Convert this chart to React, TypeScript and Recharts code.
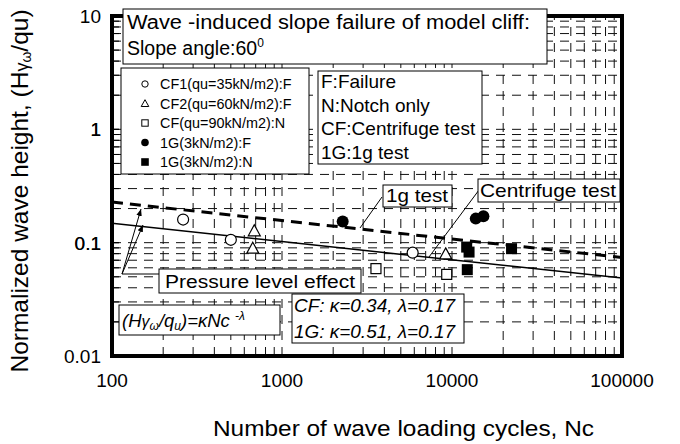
import React from 'react';
import { ScatterChart, Scatter, XAxis, YAxis, ReferenceLine } from 'recharts';

// CF1 (qu=35kN/m2): failure — open circles
const cf1Nc = [262, 500, 5870];
const cf1H = [0.16, 0.106, 0.0816];
// CF2 (qu=60kN/m2): failure — open triangles
const cf2Nc = [687, 673, 9180];
const cf2H = [0.126, 0.0885, 0.0788];
// CF (qu=90kN/m2): notch only — open squares
const cf3Nc = [3570, 9310];
const cf3H = [0.059, 0.0525];
// 1G (3kN/m2): failure — filled circles
const g1fNc = [2275, 13800, 15300];
const g1fH = [0.154, 0.163, 0.171];
// 1G (3kN/m2): notch only — filled squares
const g1nNc = [12200, 12600, 12300, 22400];
const g1nH = [0.0914, 0.0826, 0.0578, 0.0885];

// fitted lines, end points
const cfFitNc = [100, 100000];
const cfFitH = [0.148, 0.0487];
const g1FitNc = [100, 100000];
const g1FitH = [0.228, 0.074];

const xTicks = [100, 1000, 10000, 100000];
const yMajor = [0.01, 0.1, 1, 10];
const xGrid = [
  200, 300, 400, 500, 600, 700, 800, 900, 1000,
  2000, 3000, 4000, 5000, 6000, 7000, 8000, 9000, 10000,
  20000, 30000, 40000, 50000, 60000, 70000, 80000, 90000,
];
const yGrid = [
  0.02, 0.03, 0.04, 0.05, 0.06, 0.07, 0.08, 0.09, 0.1,
  0.2, 0.3, 0.4, 0.5, 0.6, 0.7, 0.8, 0.9, 1,
  2, 3, 4, 5, 6, 7, 8, 9,
];

const FONT = '"Liberation Sans", Arial, sans-serif';

const pts = (xs: number[], ys: number[]) => xs.map((x, i) => ({ x, y: ys[i] }));

const OpenCircle = ({ cx, cy }: any) => (
  <circle cx={cx} cy={cy} r={5.5} fill="#fff" stroke="#000" strokeWidth={1.2} />
);
const OpenTriangle = ({ cx, cy }: any) => (
  <path d={`M${cx},${cy - 6.5} L${cx + 6},${cy + 4.5} L${cx - 6},${cy + 4.5} Z`} fill="#fff" stroke="#000" strokeWidth={1.2} />
);
const OpenSquare = ({ cx, cy }: any) => (
  <rect x={cx - 5} y={cy - 5} width={10} height={10} fill="#fff" stroke="#000" strokeWidth={1.2} />
);
const FilledCircle = ({ cx, cy }: any) => <circle cx={cx} cy={cy} r={6} fill="#000" />;
const FilledSquare = ({ cx, cy }: any) => (
  <rect x={cx - 5.5} y={cy - 5.5} width={11} height={11} fill="#000" />
);
const NoDot = () => <g />;

const XTick = ({ x, y, payload }: any) => (
  <text x={x} y={y + 31} textAnchor="middle" fontSize={19} fontFamily={FONT} fill="#000">
    {payload.value}
  </text>
);

const YTick = ({ x, y, payload }: any) => {
  const major = yMajor.includes(payload.value);
  return (
    <g>
      <line x1={x} y1={y} x2={x + 7} y2={y} stroke="#000" strokeWidth={1} />
      {major && (
        <text x={x - 11} y={y + 7} textAnchor="end" fontSize={19} fontFamily={FONT} fill="#000">
          {payload.value}
        </text>
      )}
    </g>
  );
};

const legendRows = [
  { label: 'CF1(qu=35kN/m2):F', kind: 'oc' },
  { label: 'CF2(qu=60kN/m2):F', kind: 'ot' },
  { label: 'CF(qu=90kN/m2):N', kind: 'os' },
  { label: '1G(3kN/m2):F', kind: 'fc' },
  { label: '1G(3kN/m2):N', kind: 'fs' },
];
const keyRows = ['F:Failure', 'N:Notch only', 'CF:Centrifuge test', '1G:1g test'];

function LegendMark({ kind, x, y }: { kind: string; x: number; y: number }) {
  if (kind === 'oc') return <circle cx={x} cy={y} r={3.2} fill="#fff" stroke="#000" strokeWidth={1} />;
  if (kind === 'ot') return <path d={`M${x},${y - 3.8} L${x + 3.8},${y + 3} L${x - 3.8},${y + 3} Z`} fill="#fff" stroke="#000" strokeWidth={1} />;
  if (kind === 'os') return <rect x={x - 3.2} y={y - 3.2} width={6.4} height={6.4} fill="#fff" stroke="#000" strokeWidth={1} />;
  if (kind === 'fc') return <circle cx={x} cy={y} r={3.8} fill="#000" />;
  return <rect x={x - 3.8} y={y - 3.8} width={7.6} height={7.6} fill="#000" />;
}

function Overlay() {
  const t = { fontFamily: FONT, fill: '#000' } as const;
  return (
    <svg width={680} height={444} style={{ position: 'absolute', left: 0, top: 0, pointerEvents: 'none' }}>
      <defs>
        <marker id="ah" viewBox="0 0 10 10" refX="10" refY="5" markerWidth="7" markerHeight="7" orient="auto-start-reverse">
          <path d="M0,1 L10,5 L0,9 Z" fill="#000" />
        </marker>
      </defs>

      {/* plot frame */}
      <rect x={112} y={16} width={510} height={340} fill="none" stroke="#000" strokeWidth={4} />

      {/* title */}
      <rect x={123} y={9} width={424} height={55} fill="#fff" stroke="#000" strokeWidth={1} />
      <text x={127} y={29} fontSize={19.5} textLength={403} lengthAdjust="spacingAndGlyphs" {...t}>
        Wave -induced slope failure of model cliff:
      </text>
      <text x={127} y={55} fontSize={19.5} {...t}>
        Slope angle:60<tspan fontSize={12} dy={-8}>0</tspan>
      </text>

      {/* symbol legend */}
      <rect x={121} y={68} width={188} height={106} fill="#fff" stroke="#000" strokeWidth={1} />
      {legendRows.map((r, i) => (
        <g key={r.label}>
          <LegendMark kind={r.kind} x={145} y={84 + i * 19.5} />
          <text x={160} y={89 + i * 19.5} fontSize={14.4} {...t}>{r.label}</text>
        </g>
      ))}

      {/* abbreviations */}
      <rect x={318} y={71} width={164} height={93} fill="#fff" stroke="#000" strokeWidth={1} />
      {keyRows.map((s, i) => (
        <text key={s} x={321} y={88 + i * 23.7} fontSize={19} {...t}>{s}</text>
      ))}

      {/* 1g test callout */}
      <line x1={382} y1={197} x2={360} y2={228} stroke="#000" strokeWidth={1} />
      <rect x={383} y={185} width={69} height={22} fill="#fff" stroke="#000" strokeWidth={1} />
      <text x={386} y={202} fontSize={19} textLength={62} lengthAdjust="spacingAndGlyphs" {...t}>1g test</text>

      {/* centrifuge test callout */}
      <line x1={479} y1={190} x2={429} y2={257} stroke="#000" strokeWidth={1} />
      <rect x={478} y={179} width={142} height={23} fill="#fff" stroke="#000" strokeWidth={1} />
      <text x={480} y={197} fontSize={19} textLength={136} lengthAdjust="spacingAndGlyphs" {...t}>Centrifuge test</text>

      {/* pressure level effect */}
      <line x1={159} y1={274} x2={122} y2={274} stroke="#000" strokeWidth={1} />
      <line x1={122} y1={274} x2={141} y2={209} stroke="#000" strokeWidth={1} markerEnd="url(#ah)" />
      <line x1={122} y1={274} x2={143} y2={225} stroke="#000" strokeWidth={1} markerEnd="url(#ah)" />
      <rect x={159} y={269} width={202} height={24} fill="#fff" stroke="#000" strokeWidth={1} />
      <text x={165} y={288} fontSize={18} textLength={190} lengthAdjust="spacingAndGlyphs" {...t}>Pressure level effect</text>

      {/* formula */}
      <rect x={119} y={305} width={161} height={30} fill="#fff" stroke="#000" strokeWidth={1} />
      <text x={122} y={327} fontSize={18.5} fontStyle="italic" {...t}>
        (H<tspan fontSize={16}>γ</tspan><tspan fontSize={12} dy={3}>ω</tspan>
        <tspan dy={-3}>/q</tspan><tspan fontSize={12} dy={3}>u</tspan>
        <tspan dy={-3}>)=κNc </tspan><tspan fontSize={12} dy={-7}>-λ</tspan>
      </text>

      {/* constants */}
      <rect x={292} y={294} width={172} height={49} fill="#fff" stroke="#000" strokeWidth={1} />
      <text x={294} y={312} fontSize={18.5} fontStyle="italic" textLength={161} lengthAdjust="spacingAndGlyphs" {...t}>CF: κ=0.34, λ=0.17</text>
      <text x={294} y={338} fontSize={18.5} fontStyle="italic" textLength={161} lengthAdjust="spacingAndGlyphs" {...t}>1G: κ=0.51, λ=0.17</text>

      {/* axis titles */}
      <text x={213} y={436} fontSize={22} textLength={381} lengthAdjust="spacingAndGlyphs" {...t}>
        Number of wave loading cycles, Nc
      </text>
      <text transform="translate(28,191) rotate(-90)" textAnchor="middle" fontSize={24.5} {...t}>
        Normalized wave height, (H<tspan fontSize={18}>γ</tspan><tspan fontSize={14} dy={3}>ω</tspan>
        <tspan dy={-3}>/qu)</tspan>
      </text>
    </svg>
  );
}

export default function App() {
  return (
    <div style={{ position: 'relative', width: 680, height: 444, background: '#fff' }}>
      <style>{'body{margin:0}'}</style>
      <ScatterChart width={680} height={444} margin={{ top: 16, right: 58, bottom: 58, left: 52 }}>
        <XAxis
          type="number"
          dataKey="x"
          scale="log"
          domain={[100, 100000]}
          ticks={xTicks}
          interval={0}
          allowDataOverflow
          axisLine={false}
          tickLine={false}
          tickSize={0}
          tickMargin={0}
          height={30}
          tick={<XTick />}
        />
        <YAxis
          type="number"
          dataKey="y"
          scale="log"
          domain={[0.01, 10]}
          ticks={[...yMajor, ...yGrid]}
          interval={0}
          allowDataOverflow
          axisLine={false}
          tickLine={false}
          tickSize={0}
          tickMargin={0}
          width={60}
          tick={<YTick />}
        />
        {xGrid.map((v) => (
          <ReferenceLine key={'gx' + v} x={v} stroke="#111" strokeWidth={1} strokeDasharray="9 7" />
        ))}
        {yGrid.map((v) => (
          <ReferenceLine key={'gy' + v} y={v} stroke="#111" strokeWidth={1} strokeDasharray="9 7" />
        ))}
        <Scatter data={pts(cfFitNc, cfFitH)} line={{ stroke: '#000', strokeWidth: 1.5 }} shape={<NoDot />} isAnimationActive={false} />
        <Scatter data={pts(g1FitNc, g1FitH)} line={{ stroke: '#000', strokeWidth: 3, strokeDasharray: '11 7' }} shape={<NoDot />} isAnimationActive={false} />
        <Scatter data={pts(cf1Nc, cf1H)} shape={<OpenCircle />} isAnimationActive={false} />
        <Scatter data={pts(cf2Nc, cf2H)} shape={<OpenTriangle />} isAnimationActive={false} />
        <Scatter data={pts(cf3Nc, cf3H)} shape={<OpenSquare />} isAnimationActive={false} />
        <Scatter data={pts(g1fNc, g1fH)} shape={<FilledCircle />} isAnimationActive={false} />
        <Scatter data={pts(g1nNc, g1nH)} shape={<FilledSquare />} isAnimationActive={false} />
      </ScatterChart>
      <Overlay />
    </div>
  );
}
